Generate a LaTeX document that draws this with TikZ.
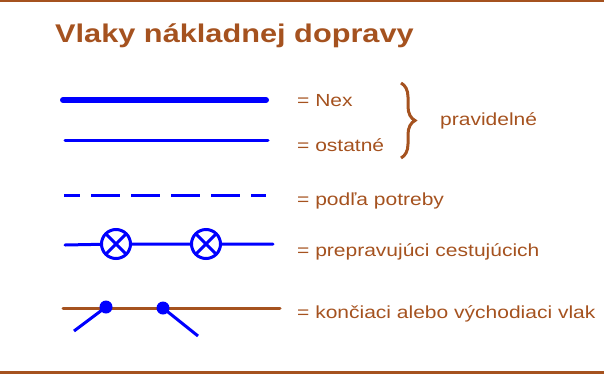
\documentclass[tikz,border=0pt]{standalone}
\usepackage{fontspec}
\setmainfont[FakeStretch=1.2]{Liberation Sans}
\usetikzlibrary{positioning,decorations.pathreplacing}
\definecolor{rust}{HTML}{A5521F}
\definecolor{trainblue}{HTML}{0000FF}
\tikzset{
  ttl/.style     = {anchor=base west, inner sep=0pt, text=rust,
                    font=\fontsize{25.6}{29}\selectfont\bfseries},
  lbl/.style     = {anchor=base west, inner sep=0pt, text=rust,
                    font=\fontsize{17.5}{21}\selectfont},
  rule/.style    = {draw=rust, line width=2.5pt},
  nexline/.style = {draw=trainblue, line width=6pt, line cap=round},
  regline/.style = {draw=trainblue, line width=3pt, line cap=round},
  optline/.style = {draw=trainblue, line width=3pt,
                    dash pattern=on 29pt off 11pt, dash phase=13pt},
  endline/.style = {draw=rust, line width=3pt, line cap=round},
  leg/.style     = {draw=trainblue, line width=3pt},
  lamp/.style    = {circle, draw=trainblue, line width=3pt, fill=white,
                    minimum size=29pt, inner sep=0pt,
                    path picture={\draw[trainblue, line width=3pt]
                      (path picture bounding box.north west) -- (path picture bounding box.south east)
                      (path picture bounding box.north east) -- (path picture bounding box.south west);}},
  jdot/.style    = {circle, fill=trainblue, minimum size=13pt, inner sep=0pt},
  brc/.style     = {draw=rust, line width=3pt, decorate,
                    decoration={brace, amplitude=14pt}},
}
\begin{document}
\begin{tikzpicture}[x=1pt, y=-1pt]
  \useasboundingbox (0,0) rectangle (604,375);
  % frame
  \coordinate (topL) at (0,1);   \coordinate (topR) at (604,1);
  \coordinate (botL) at (0,372); \coordinate (botR) at (604,372);
  \draw[rule] (topL) -- (topR);
  \draw[rule, line width=3pt] (botL) -- (botR);

  \node[ttl] (title) at (55,42) {Vlaky nákladnej dopravy};

  % legend lines
  \coordinate (nexA) at (63,100);  \coordinate (nexB) at (266,100);
  \coordinate (regA) at (65,140);  \coordinate (regB) at (268,140);
  \coordinate (optA) at (64,195);  \coordinate (optB) at (266,195);
  \draw[nexline] (nexA) -- (nexB);
  \draw[regline] (regA) -- (regB);
  \draw[optline] (optA) -- (optB);

  \coordinate (pasA) at (65,245);  \coordinate (pasB) at (273,244);
  \node[lamp] (lamp1) at (116,244) {};
  \node[lamp] (lamp2) at (206,244) {};
  \draw[regline] (pasA) -- (lamp1) -- (lamp2) -- (pasB);

  \coordinate (endA) at (63,308);  \coordinate (endB) at (280,308);
  \coordinate (leg1) at (74,331);  \coordinate (leg2) at (198,336);
  \coordinate (dot1c) at (106,307); \coordinate (dot2c) at (163,308);
  \draw[endline] (endA) -- (endB);
  \draw[leg] (dot1c) -- (leg1);
  \draw[leg] (dot2c) -- (leg2);
  \node[jdot] (dot1) at (dot1c) {};
  \node[jdot] (dot2) at (dot2c) {};

  % labels
  \node[lbl] (nex) at (297,106) {= Nex};
  \node[lbl] (reg) at (297,151) {= ostatné};
  \node[lbl] (opt) at (297,205) {= podľa potreby};
  \node[lbl] (pas) at (297,256) {= prepravujúci cestujúcich};
  \node[lbl] (end) at (297,318) {= končiaci alebo východiaci vlak};

  \coordinate (brcT) at (401,83); \coordinate (brcB) at (401,158);
  \draw[brc] (brcT) -- (brcB);
  \node[lbl] (pravid) at (440,125) {pravidelné};
\end{tikzpicture}
\end{document}
